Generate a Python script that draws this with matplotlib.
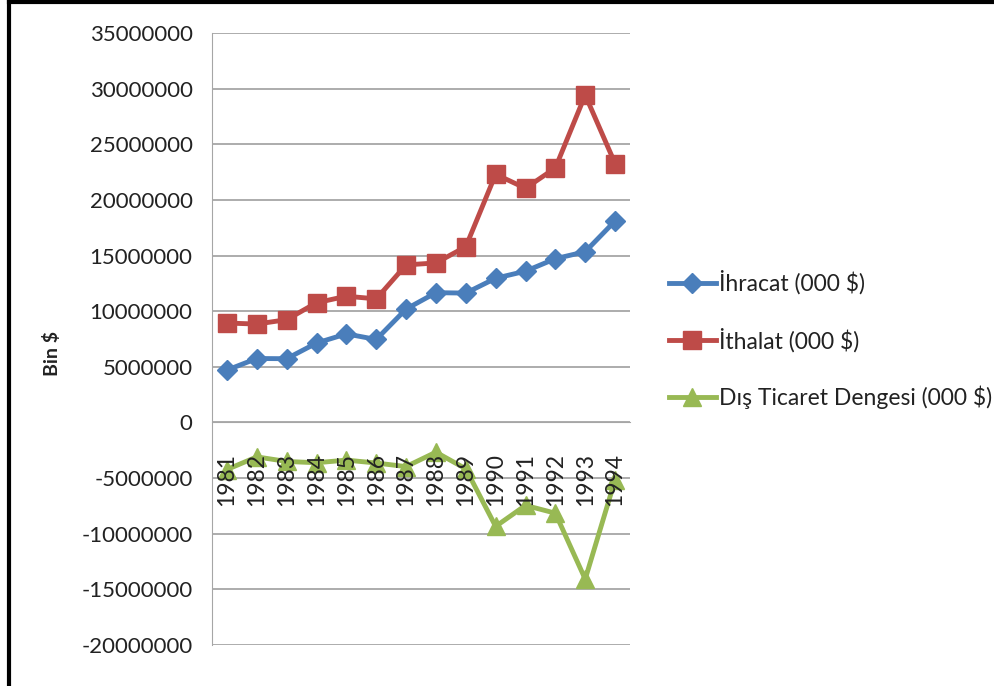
import matplotlib.pyplot as plt
from matplotlib.lines import Line2D
from matplotlib.ticker import MultipleLocator

plt.rcParams['font.family'] = ['Lato', 'DejaVu Sans']

# Data (000 $)
years = ['1981', '1982', '1983', '1984', '1985', '1986', '1987',
         '1988', '1989', '1990', '1991', '1992', '1993', '1994']
ihracat = [4703000, 5746000, 5728000, 7134000, 7958000, 7457000, 10190000,
           11662000, 11625000, 12959000, 13593000, 14715000, 15345000, 18106000]
ithalat = [8933000, 8843000, 9235000, 10757000, 11343000, 11105000, 14158000,
           14335000, 15792000, 22302000, 21047000, 22871000, 29428000, 23270000]
denge = [-4230000, -3097000, -3507000, -3623000, -3385000, -3648000, -3968000,
         -2673000, -4167000, -9343000, -7454000, -8156000, -14083000, -5164000]

labels = ['İhracat (000 $)', 'İthalat (000 $)', 'Dış Ticaret Dengesi (000 $)']
colors = ['#4A7EBB', '#BE4B48', '#98B954']

fig = plt.figure(figsize=(9.94, 6.86), dpi=100)
ax = fig.add_axes([0.2133, 0.0598, 0.4205, 0.8921])

x = list(range(len(years)))
ax.plot(x, ihracat, color=colors[0], lw=3.5, marker='D', ms=10, label=labels[0])
ax.plot(x, ithalat, color=colors[1], lw=3.5, marker='s', ms=13, label=labels[1])
ax.plot(x, denge, color=colors[2], lw=3.5, marker='^', ms=13, label=labels[2])

ax.set_xlim(-0.5, len(years) - 0.5)
ax.set_ylim(-20000000, 35000000)
ax.yaxis.set_major_locator(MultipleLocator(5000000))
ax.yaxis.grid(True, color='#A6A6A6', lw=1.3)
ax.set_axisbelow(True)

# category axis crosses at zero
ax.spines['bottom'].set_position(('data', 0))
ax.spines['bottom'].set_color('#A6A6A6')
ax.spines['left'].set_color('#A6A6A6')
ax.spines['top'].set_visible(False)
ax.spines['right'].set_visible(False)

ax.set_xticks(x)
ax.set_xticklabels(years, rotation=90, fontsize=16.5, color='#222222')
ax.tick_params(axis='x', length=0, pad=22)
ax.xaxis.set_zorder(3)  # year labels sit over the green line
ax.tick_params(axis='y', length=0, pad=14, labelsize=16, labelcolor='#222222')
ax.yaxis.set_major_formatter(plt.FuncFormatter(lambda v, p: f'{int(v)}'))

fig.text(0.052, 0.485, 'Bin $', rotation=90, fontsize=14, fontweight='bold',
         ha='center', va='center', color='#222222')

ax.legend(loc='center left', bbox_to_anchor=(0.652, 0.505), bbox_transform=fig.transFigure,
          frameon=False, fontsize=16.5, handlelength=2.05, handletextpad=0.15,
          labelspacing=1.45, labelcolor='#222222')

# frame lines of the picture (top and left)
fig.add_artist(Line2D([0.009, 1.0], [0.997, 0.997], color='black', lw=3,
                      transform=fig.transFigure))
fig.add_artist(Line2D([0.0095, 0.0095], [0.0, 0.997], color='black', lw=3,
                      transform=fig.transFigure))

fig.savefig('out.png', dpi=100)
